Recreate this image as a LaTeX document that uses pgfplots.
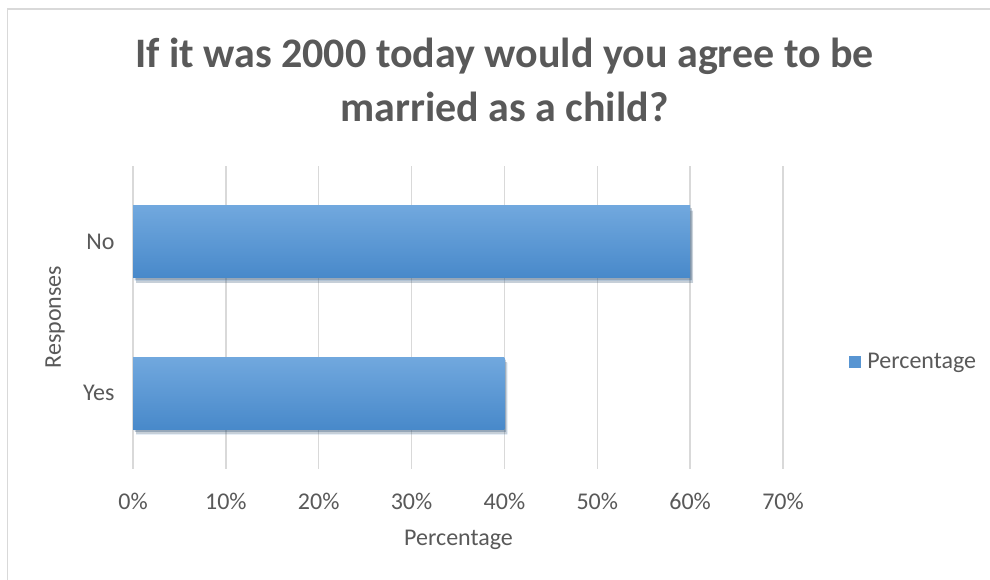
\documentclass[border=0pt]{standalone}
\usepackage{fontspec}
\setmainfont{Carlito}
\usepackage{pgfplots}
\pgfplotsset{compat=1.18}
\definecolor{txt}{HTML}{595959}
\definecolor{gridc}{HTML}{D9D9D9}
\definecolor{bartop}{HTML}{71A8DE}
\definecolor{barbot}{HTML}{4889CA}
\pgfplotsset{shadowbar/.style={forget plot, draw=none, top color=bartop, bottom color=barbot,
  preaction={fill=black, opacity=0.14, transform canvas={xshift=3pt,yshift=-5pt}},
  preaction={fill=black, opacity=0.16, transform canvas={xshift=1.5pt,yshift=-2.5pt}}}}
\begin{document}
\begin{tikzpicture}[x=1pt,y=1pt]
\useasboundingbox (0,0) rectangle (990,580);
\fill[white] (0,0) rectangle (990,580);
\draw[gridc, line width=1.5pt] (7.5,-5) -- (7.5,571) -- (995,571);
\node[anchor=base, text=txt, font=\fontsize{42}{50}\selectfont\bfseries] at (504.5,512) {If it was 2000 today would you agree to be};
\node[anchor=base, text=txt, font=\fontsize{42}{50}\selectfont\bfseries] at (504.5,458) {married as a child?};
\node[anchor=base, text=txt, font=\fontsize{24}{29}\selectfont] at (458.5,34) {Percentage};
\node[anchor=center, rotate=90, text=txt, font=\fontsize{24}{29}\selectfont] at (55,263) {Responses};
\begin{axis}[
  at={(133pt,111pt)}, anchor=south west, scale only axis,
  width=650pt, height=303pt,
  xmin=0, xmax=70, ymin=-0.5, ymax=1.5,
  xbar, bar width=72pt, bar shift=0pt,
  xtick={0,10,...,70}, ytick={0,1}, yticklabels={Yes,No},
  xticklabel={\pgfmathprintnumber{\tick}\%},
  /pgf/number format/assume math mode=true,
  xmajorgrids, major grid style={gridc, line width=1.5pt},
  axis lines=left, axis line style={-},
  x axis line style={draw=none},
  y axis line style={gridc, line width=1.5pt},
  major tick length=0pt,
  tick label style={text=txt, font=\fontsize{24}{29}\selectfont},
  xticklabel style={anchor=center, yshift=-32pt},
  yticklabel style={anchor=east, xshift=-15pt},
  legend style={at={(axis description cs:1.097,0.353)}, anchor=west, draw=none, fill=none,
    font=\fontsize{24}{29}\selectfont, text=txt},
]
\addplot[shadowbar] coordinates {(40,0)};
\addplot[shadowbar] coordinates {(60,1)};
\addlegendimage{legend image code/.code={\fill[bartop!40!barbot] (0pt,-5.5pt) rectangle (11pt,5.5pt); \path[draw=none, fill=none] (11pt,0pt) -- (16pt,0pt);}}
\addlegendentry{Percentage}
\end{axis}
\end{tikzpicture}
\end{document}
